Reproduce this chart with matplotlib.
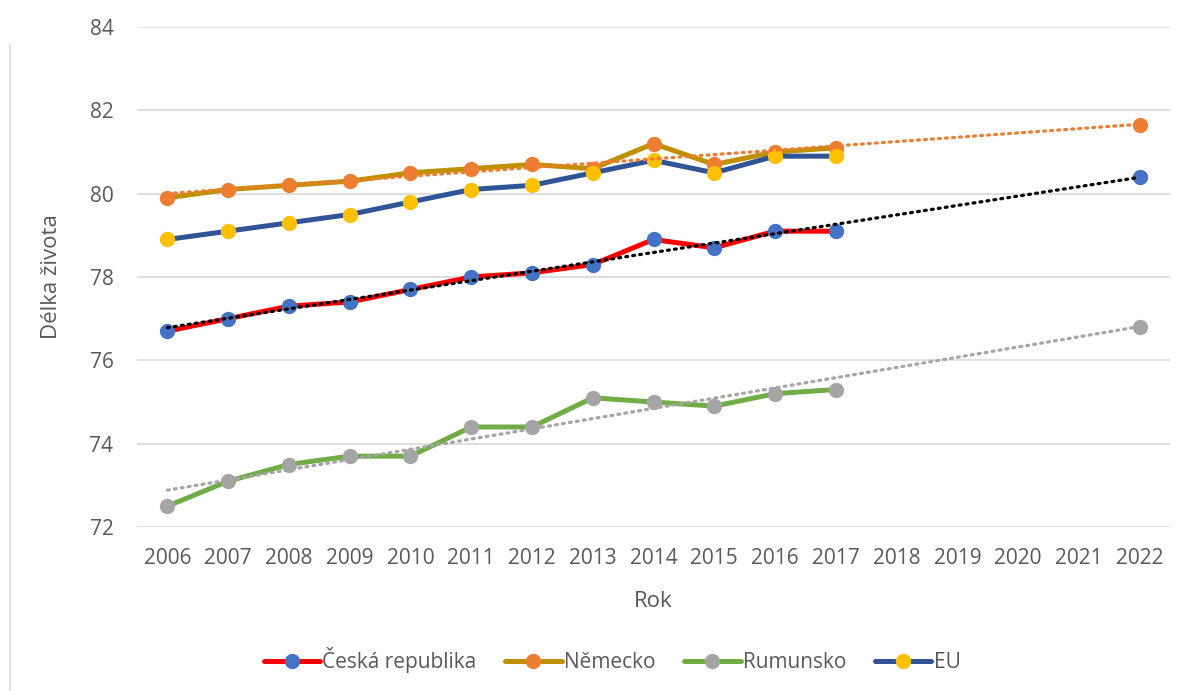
import numpy as np
import matplotlib
matplotlib.use("Agg")
import matplotlib.pyplot as plt
from matplotlib.lines import Line2D

plt.rcParams['font.family'] = ['Open Sans', 'DejaVu Sans']

years = ["2006", "2007", "2008", "2009", "2010", "2011", "2012", "2013",
         "2014", "2015", "2016", "2017", "2018", "2019", "2020", "2021", "2022"]

# observed life expectancy 2006-2017
cz = [76.7, 77.0, 77.3, 77.4, 77.7, 78.0, 78.1, 78.3, 78.9, 78.7, 79.1, 79.1]
de = [79.9, 80.1, 80.2, 80.3, 80.5, 80.6, 80.7, 80.6, 81.2, 80.7, 81.0, 81.1]
ro = [72.5, 73.1, 73.5, 73.7, 73.7, 74.4, 74.4, 75.1, 75.0, 74.9, 75.2, 75.3]
eu = [78.9, 79.1, 79.3, 79.5, 79.8, 80.1, 80.2, 80.5, 80.8, 80.5, 80.9, 80.9]

# 2022 projections
cz_2022 = 80.4
de_2022 = 81.65
ro_2022 = 76.8

n = len(years)
x = np.arange(n)
xo = np.arange(len(cz))


def full_series(obs, proj=None):
    s = np.full(n, np.nan)
    s[:len(obs)] = obs
    if proj is not None:
        s[-1] = proj
    return s


fig = plt.figure(figsize=(11.92, 6.91), dpi=100)
ax = fig.add_axes([137 / 1192, 1 - 527 / 691, (1170 - 137) / 1192, 500 / 691])

text_col = "#595959"
lw = 3.6
ms = 10

series = [
    ("Česká republika", cz, cz_2022, "#FF0000", "#4472C4"),
    ("Německo", de, de_2022, "#BF9000", "#ED7D31"),
    ("Rumunsko", ro, ro_2022, "#70AD47", "#A5A5A5"),
    ("EU", eu, None, "#2F5597", "#FFC000"),
]

handles = []
for i, (name, obs, proj, lc, mc) in enumerate(series):
    ax.plot(x, full_series(obs, proj), color=lc, lw=lw, marker="o",
            markersize=ms, markerfacecolor=mc, markeredgecolor=mc,
            solid_capstyle="round", zorder=3 + i)
    handles.append(Line2D([], [], color=lc, lw=lw, marker="o", markersize=ms,
                          markerfacecolor=mc, markeredgecolor=mc,
                          solid_capstyle="round", label=name))

# linear trends fitted on observed years, extended to 2022
trends = [(cz, "#000000"), (de, "#ED7D31"), (ro, "#A5A5A5")]
for obs, col in trends:
    k, q = np.polyfit(xo, obs, 1)
    ax.plot(x, k * x + q, color=col, lw=2.3, linestyle=(0, (0.6, 1.6)),
            dash_capstyle="round", zorder=10)

ax.set_xlim(-0.5, n - 0.5)
ax.set_ylim(72, 84)
ax.set_yticks(np.arange(72, 85, 2))
ax.set_xticks(x)
ax.set_xticklabels(years)
ax.grid(axis="y", color="#D9D9D9", lw=1.2)
ax.set_axisbelow(True)
for s in ax.spines.values():
    s.set_visible(False)
ax.tick_params(length=0, labelsize=15, colors=text_col)
ax.tick_params(axis="x", pad=15)
ax.tick_params(axis="y", pad=17)

ax.set_xlabel("Rok", fontsize=16, color=text_col, labelpad=16)
ax.set_ylabel("Délka života", fontsize=16, color=text_col, labelpad=20)

fig.legend(handles=handles, loc="center", bbox_to_anchor=(612 / 1192, 1 - 660 / 691),
           ncol=4, frameon=False, fontsize=15, labelcolor=text_col,
           handlelength=2.7, handletextpad=0.1, columnspacing=1.4)

# chart-area border fragment on the left
fig.add_artist(Line2D([10 / 1192, 10 / 1192], [0, 1 - 45 / 691],
                      transform=fig.transFigure, color="#D9D9D9", lw=1.2))

fig.savefig("out.png", dpi=100)
